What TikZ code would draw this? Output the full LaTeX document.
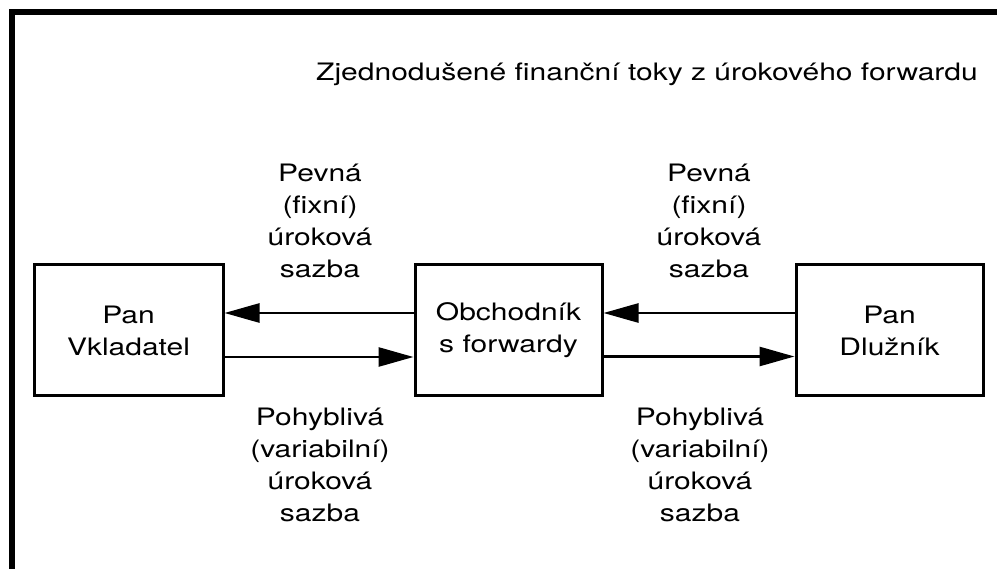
\documentclass[tikz,border=0pt]{standalone}
\usepackage{fontspec}
\setmainfont{TeX Gyre Heros}[FakeStretch=1.25]
\usetikzlibrary{arrows.meta}
\begin{document}
\begin{tikzpicture}[x=1pt,y=-1pt,
  txt/.style={font=\fontsize{24}{32}\selectfont,inner sep=0pt,align=center},
  party/.style={txt,draw,line width=3pt,minimum height=131pt},
  flow/.style={line width=2.7pt,-{Triangle[length=35pt,width=19pt]}}]
\useasboundingbox (0,0) rectangle (997,569);
% frame along the top and left edges
\draw[line width=6pt] (12,569) -- (12,12) -- (997,12);
% heading
\node[txt,anchor=base east] (title) at (978,81)
  {Zjednodušené finanční toky z úrokového forwardu};
% the three parties
\node[party,minimum width=189pt] (vkl)  at (128.5,330.5) {Pan\\Vkladatel};
\node[party,minimum width=187pt] (obch) at (508.5,330.5) {Obchodník\\s forwardy};
\node[party,minimum width=187pt] (dluz) at (889.5,330.5) {Pan\\Dlužník};
% payment flows
\draw[flow] ([yshift=17.5pt]obch.west) -- ([yshift=17.5pt]vkl.east);
\draw[flow] ([yshift=-26.5pt]vkl.east) -- ([yshift=-26.5pt]obch.west);
\draw[flow] ([yshift=17.5pt]dluz.west) -- ([yshift=17.5pt]obch.east);
\draw[flow] ([yshift=-26pt]obch.east) -- ([yshift=-26pt]dluz.west);
% flow labels
\node[txt] (fixL) at (320,220.9) {Pevná\\(fixní)\\úroková\\sazba};
\node[txt] (fixR) at (709,220.9) {Pevná\\(fixní)\\úroková\\sazba};
\node[txt] (varL) at (320,465.4) {Pohyblivá\\(variabilní)\\úroková\\sazba};
\node[txt] (varR) at (700,465.4) {Pohyblivá\\(variabilní)\\úroková\\sazba};
\end{tikzpicture}
\end{document}
